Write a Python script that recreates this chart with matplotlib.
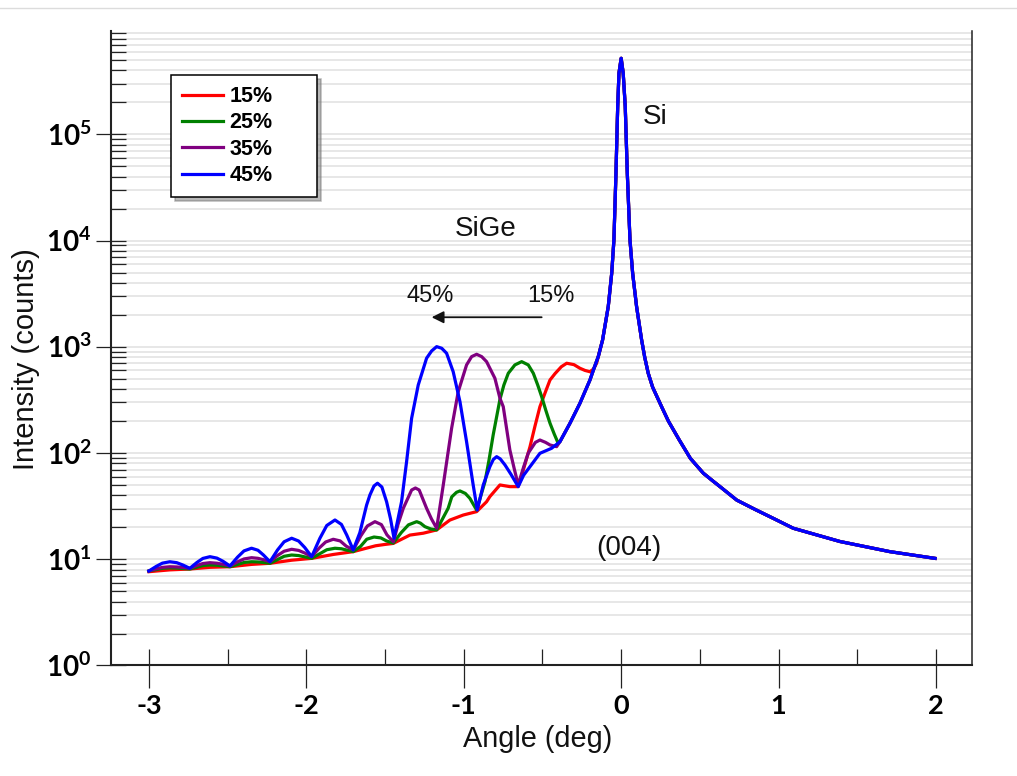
import matplotlib
matplotlib.use('Agg')
from matplotlib import pyplot as plt
from matplotlib.lines import Line2D
from matplotlib.ticker import FixedLocator, MultipleLocator, NullFormatter

plt.rcParams['font.family'] = ['Liberation Sans', 'DejaVu Sans']
plt.rcParams['axes.unicode_minus'] = False
plt.rcParams['mathtext.fontset'] = 'custom'
plt.rcParams['mathtext.bf'] = 'Lato:bold'
plt.rcParams['mathtext.rm'] = 'Lato'

### Data
# Si (004) substrate peak, shared by every composition
si_angle = [-0.389, -0.325, -0.262, -0.198, -0.172, -0.145, -0.118, -0.082, -0.060, -0.046,
            -0.033, -0.022, -0.014, 0.000, 0.013, 0.026, 0.039, 0.056, 0.073, 0.098,
            0.130, 0.150, 0.172, 0.200, 0.257, 0.300, 0.369, 0.440, 0.522, 0.580,
            0.628, 0.734, 0.850, 0.966, 1.093, 1.390, 1.707, 1.994]
si_counts = [127.9, 191, 294, 488, 631, 813, 1161, 2393, 4932, 10160,
             43150, 182800, 376700, 521200, 376700, 182800, 43150, 10160, 4932, 2393,
             1161, 794, 564, 417, 273, 200, 133, 89, 64.6, 55,
             48.3, 36.1, 29.5, 24.3, 19.6, 14.7, 11.8, 10.2]

# SiGe layer side, 15 % Ge
ge15_angle = [-3.000, -2.867, -2.740, -2.612, -2.485, -2.348, -2.231, -2.093, -1.966, -1.829,
              -1.702, -1.560, -1.500, -1.448, -1.342, -1.257, -1.172, -1.088, -1.003, -0.918,
              -0.855, -0.834, -0.770, -0.707, -0.654, -0.622, -0.579, -0.548, -0.516, -0.480,
              -0.452, -0.420, -0.380, -0.346, -0.300, -0.262, -0.230, -0.198, -0.175, -0.156]
ge15_counts = [7.64, 7.95, 8.10, 8.40, 8.51, 8.95, 9.17, 9.80, 10.2, 11.1,
               11.8, 13.4, 13.8, 14.1, 16.9, 17.6, 18.9, 23.4, 26.1, 28.1,
               34.8, 38.9, 50.1, 48.3, 48.3, 69, 114.9, 178, 273.5, 380,
               487.5, 560, 650, 701, 680, 629, 600, 583, 620, 701]

# 25 % Ge
ge25_angle = [-3.000, -2.914, -2.867, -2.823, -2.740, -2.657, -2.612, -2.568, -2.485, -2.396,
              -2.348, -2.307, -2.231, -2.141, -2.093, -2.049, -1.966, -1.870, -1.818, -1.777,
              -1.702, -1.656, -1.616, -1.570, -1.527, -1.491, -1.448, -1.396, -1.351, -1.299,
              -1.275, -1.247, -1.210, -1.172, -1.099, -1.076, -1.046, -1.024, -0.990, -0.961,
              -0.940, -0.918, -0.865, -0.840, -0.813, -0.770, -0.745, -0.717, -0.675, -0.632,
              -0.590, -0.558, -0.530, -0.505, -0.478, -0.452, -0.425, -0.400]
ge25_counts = [7.76, 8.22, 8.30, 8.26, 8.10, 8.73, 8.84, 8.79, 8.51, 9.33,
               9.48, 9.44, 9.17, 10.67, 10.97, 10.84, 10.2, 12.3, 12.7, 12.56,
               11.8, 13.2, 15.45, 16.2, 15.9, 14.9, 14.2, 17.9, 21.1, 22.6,
               21.9, 20.3, 19.3, 18.9, 30.2, 38.7, 42.7, 44.0, 41.7, 37.5,
               33.1, 29.1, 53.8, 85, 148, 320, 437, 564, 676, 725.6,
               676, 564, 437, 340, 251, 191, 151, 123.7]

# 35 % Ge
ge35_angle = [-3.000, -2.953, -2.914, -2.867, -2.823, -2.784, -2.740, -2.695, -2.657, -2.612,
              -2.568, -2.529, -2.485, -2.437, -2.396, -2.348, -2.307, -2.272, -2.231, -2.183,
              -2.141, -2.093, -2.049, -2.010, -1.966, -1.918, -1.877, -1.829, -1.785, -1.746,
              -1.702, -1.654, -1.612, -1.564, -1.523, -1.488, -1.447, -1.416, -1.384, -1.331,
              -1.307, -1.283, -1.236, -1.205, -1.172, -1.130, -1.077, -1.035, -0.982, -0.950,
              -0.918, -0.886, -0.855, -0.802, -0.770, -0.749, -0.707, -0.680, -0.654, -0.622,
              -0.590, -0.545, -0.516, -0.480, -0.452, -0.410]
ge35_counts = [7.76, 8.13, 8.39, 8.51, 8.47, 8.37, 8.22, 8.74, 9.12, 9.29,
               9.18, 8.97, 8.65, 9.46, 10.07, 10.35, 10.21, 9.91, 9.48, 10.85,
               11.91, 12.42, 12.12, 11.46, 10.58, 12.77, 14.55, 15.43, 14.89, 13.27,
               12.25, 16.6, 20.6, 22.6, 21.2, 17.0, 14.6, 21.7, 30.2, 44.9,
               46.9, 44.9, 30.2, 24.0, 19.6, 50.1, 171.2, 378.5, 675.6, 809,
               851.4, 809, 725.6, 506, 328, 273.5, 107, 72, 50.1, 72,
               100, 126, 132.7, 126, 119.2, 114.9]

# 45 % Ge
ge45_angle = [-3.000, -2.953, -2.914, -2.867, -2.823, -2.784, -2.740, -2.695, -2.657, -2.612,
              -2.568, -2.529, -2.485, -2.437, -2.396, -2.348, -2.307, -2.272, -2.231, -2.183,
              -2.141, -2.093, -2.049, -2.010, -1.966, -1.914, -1.870, -1.818, -1.777, -1.743,
              -1.702, -1.660, -1.617, -1.596, -1.570, -1.548, -1.520, -1.490, -1.465, -1.443,
              -1.395, -1.363, -1.331, -1.289, -1.236, -1.204, -1.172, -1.140, -1.109, -1.067,
              -1.024, -0.982, -0.940, -0.914, -0.876, -0.834, -0.812, -0.791, -0.768, -0.738,
              -0.700, -0.654, -0.620, -0.579, -0.516, -0.442]
ge45_counts = [7.76, 8.58, 9.20, 9.48, 9.29, 8.83, 8.22, 9.33, 10.19, 10.58,
               10.26, 9.57, 8.65, 10.47, 11.99, 12.71, 12.16, 10.96, 9.48, 12.23,
               14.62, 15.78, 14.86, 12.91, 10.58, 15.74, 20.8, 23.44, 21.3, 16.9,
               12.25, 17.8, 32.4, 40.3, 49.0, 52.0, 47.9, 34.8, 24.0, 15.8,
               34.8, 83.0, 212.8, 437.5, 781.6, 915, 1004.6, 970, 871, 583.4,
               304.8, 127.9, 50.1, 29.1, 50.1, 74.5, 87.1, 92.5, 88.1, 77.3,
               63.1, 48.3, 61.7, 74.5, 99.5, 110.9]

series_labels = ['15%', '25%', '35%', '45%']
series_colors = ['#ff0000', '#008000', '#800080', '#0000ff']

xticks = [-3, -2, -1, 0, 1, 2]
xticklabels = ['-3', '-2', '-1', '0', '1', '2']
yticks = [1, 10, 100, 1000, 1e4, 1e5]
yticklabels = [r'$\mathbf{10^{%d}}$' % k for k in range(6)]


def with_substrate(angle, counts):
    # layer curve joins the Si peak once it reaches it
    a, c = list(angle), list(counts)
    for x, y in zip(si_angle, si_counts):
        if x > a[-1]:
            a.append(x)
            c.append(y)
    return a, c


### Figure
fig = plt.figure(figsize=(10.17, 7.76), dpi=100)
ax = fig.add_axes([0.1091, 0.1424, 0.8467, 0.8182])
ax.set_axisbelow(True)

curves = [(ge15_angle, ge15_counts), (ge25_angle, ge25_counts),
          (ge35_angle, ge35_counts), (ge45_angle, ge45_counts)]
for (a, c), lab, col in zip(curves, series_labels, series_colors):
    xs, ys = with_substrate(a, c)
    ax.plot(xs, ys, color=col, lw=2.3, label=lab, solid_joinstyle='round')

ax.set_yscale('log')
ax.set_xlim(-3.241, 2.229)
ax.set_ylim(1, 9.5e5)

# ticks
ax.set_xticks(xticks, labels=xticklabels, fontsize=19.5, fontweight='bold', fontfamily='Lato')
ax.xaxis.set_minor_locator(MultipleLocator(0.5))
ax.xaxis.set_minor_formatter(NullFormatter())
ax.xaxis.remove_overlapping_locs = False
ax.tick_params(axis='x', which='major', direction='out', length=16.6, width=0.9, pad=4, color='#222222')
ax.tick_params(axis='x', which='minor', direction='in', length=11.5, width=0.9, color='#222222')

ax.set_yticks(yticks, labels=yticklabels, fontsize=20)
minor_y = [m * 10 ** k for k in range(6) for m in range(2, 10)]
ax.yaxis.set_minor_locator(FixedLocator(minor_y))
ax.yaxis.set_minor_formatter(NullFormatter())
ax.tick_params(axis='y', which='major', direction='inout', length=21.6, width=0.9, pad=3, color='#222222')
ax.tick_params(axis='y', which='minor', direction='in', length=10.8, width=0.9, color='#222222')

ax.yaxis.grid(True, which='both', color='#e3e3e3', lw=1.2)
ax.xaxis.grid(False)

ax.spines['top'].set_visible(False)
ax.spines['left'].set_linewidth(1.5)
ax.spines['bottom'].set_linewidth(1.5)
ax.spines['right'].set_linewidth(1.1)
for s in ax.spines.values():
    s.set_color('#222222')

ax.set_xlabel('Angle (deg)', fontsize=20.8, color='#111111', va='center')
ax.xaxis.set_label_coords(0.496, -0.116)
ax.set_ylabel('Intensity (counts)', fontsize=21, color='#111111', va='center')
ax.yaxis.set_label_coords(-0.099, 0.482)

# annotations
ax.text(0.138, 1.46e5, 'Si', fontsize=20, ha='left', va='center', color='#111111')
ax.text(-0.859, 1.30e4, 'SiGe', fontsize=20, ha='center', va='center', color='#111111')
ax.text(-1.215, 3015, '45%', fontsize=17, ha='center', va='center', color='#111111')
ax.text(-0.449, 3015, '15%', fontsize=17, ha='center', va='center', color='#111111')
ax.annotate('', xy=(-1.204, 1900), xytext=(-0.505, 1900),
            arrowprops=dict(arrowstyle='-|>', color='#111111', lw=1.3,
                            mutation_scale=18, shrinkA=0, shrinkB=0))
ax.text(0.046, 12.77, '(004)', fontsize=20, ha='center', va='center', color='#111111')

leg = ax.legend(loc='upper left', bbox_to_anchor=(0.1684, 0.7487, 0.1436, 0.1543),
                bbox_transform=fig.transFigure, mode='expand', borderaxespad=0,
                prop={'family': 'Liberation Sans', 'weight': 'bold', 'size': 15.5},
                handlelength=1.9, handletextpad=0.31, labelspacing=0.25, borderpad=0.5,
                fancybox=False, framealpha=1, edgecolor='black',
                shadow={'ox': 3, 'oy': -3, 'color': '0.45', 'alpha': 0.5})
leg.get_frame().set_linewidth(1.1)

fig.add_artist(Line2D([0, 1], [0.9903, 0.9903], transform=fig.transFigure, color='#dcdcdc', lw=1))

plt.savefig('out.png', dpi=100)
